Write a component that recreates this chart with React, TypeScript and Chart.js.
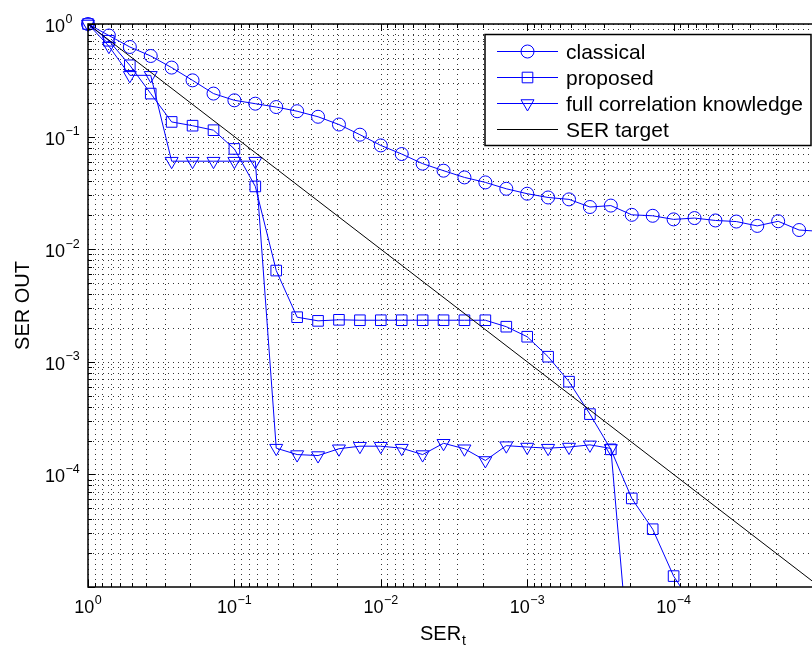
import { useEffect, useRef } from 'react';
import { Chart, registerables } from 'chart.js';

Chart.register(...registerables);

// SER target values (x axis), logspace from 1 to 1e-5 in 36 steps
const serTarget = [
  1, 0.7197, 0.5179, 0.3728, 0.2683, 0.1931, 0.1389,
  0.1, 0.07197, 0.05179, 0.03728, 0.02683, 0.01931, 0.01389,
  0.01, 0.007197, 0.005179, 0.003728, 0.002683, 0.001931, 0.001389,
  0.001, 7.197e-4, 5.179e-4, 3.728e-4, 2.683e-4, 1.931e-4, 1.389e-4,
  1e-4, 7.197e-5, 5.179e-5, 3.728e-5, 2.683e-5, 1.931e-5, 1.389e-5,
  1e-5,
];

const classical = [
  1.0, 0.79, 0.625, 0.52, 0.41, 0.316, 0.241, 0.21, 0.196, 0.183,
  0.168, 0.15, 0.128, 0.104, 0.0835, 0.07, 0.0575, 0.0498, 0.0434, 0.0392,
  0.0344, 0.0311, 0.0288, 0.0277, 0.0237, 0.0244, 0.0202, 0.0198, 0.0184, 0.0189,
  0.018, 0.0176, 0.0161, 0.0177, 0.0148, 0.0144,
];

const proposed = [
  1.0, 0.71, 0.43, 0.241, 0.135, 0.125, 0.114, 0.0777, 0.0361, 0.00646,
  0.00249, 0.00231, 0.00236, 0.00234, 0.00234, 0.00234, 0.00234, 0.00234, 0.00234, 0.00234,
  0.00205, 0.00167, 0.00111, 6.66e-4, 3.43e-4, 1.67e-4, 6.12e-5, 3.26e-5, 1.25e-5, 6.5e-6,
];

const fullCorrelation = [
  1.0, 0.635, 0.35, 0.35, 0.0605, 0.0605, 0.0605, 0.0605, 0.0605, 1.71e-4,
  1.5e-4, 1.47e-4, 1.69e-4, 1.78e-4, 1.78e-4, 1.71e-4, 1.5e-4, 1.89e-4, 1.69e-4, 1.33e-4,
  1.8e-4, 1.75e-4, 1.71e-4, 1.75e-4, 1.83e-4, 1.7e-4, 1.2e-6,
];

const targetX = [1, 1e-5];
const targetY = [1, 1e-5];

const legendLabels = ['classical', 'proposed', 'full correlation knowledge', 'SER target'];
const labeledExponents = [0, -1, -2, -3, -4];
const gridExponents = [-5, -4, -3, -2, -1];
const mantissas = [1, 2, 3, 4, 5, 6, 7, 8, 9];

const BLUE = '#0000ff';
const FONT = '"Liberation Sans", Arial, Helvetica, sans-serif';

const gridValues: { v: number; major: boolean }[] = [{ v: 1, major: true }];
gridExponents.forEach((e) => {
  mantissas.forEach((m) => {
    gridValues.push({ v: m * Math.pow(10, e), major: m === 1 });
  });
});

const expText = (e: number) => (e < 0 ? '\u2212' + String(-e) : String(e));

function drawMarker(ctx: CanvasRenderingContext2D, kind: string, x: number, y: number) {
  ctx.beginPath();
  if (kind === 'circle') {
    ctx.arc(x, y, 6.5, 0, Math.PI * 2);
  } else if (kind === 'rect') {
    const s = 7.5 * Math.SQRT1_2;
    ctx.rect(x - s, y - s, 2 * s, 2 * s);
  } else if (kind === 'triangle') {
    const r = 7.5;
    ctx.moveTo(x, y + r);
    ctx.lineTo(x - 0.866 * r, y - 0.5 * r);
    ctx.lineTo(x + 0.866 * r, y - 0.5 * r);
    ctx.closePath();
  }
  ctx.stroke();
}

const matlabAxes = {
  id: 'matlabAxes',
  beforeDatasetsDraw(chart: any) {
    const { ctx, chartArea: a, scales } = chart;
    const xs = scales.x;
    const ys = scales.y;
    ctx.save();
    ctx.beginPath();
    ctx.rect(a.left, a.top, a.right - a.left, a.bottom - a.top);
    ctx.clip();
    ctx.strokeStyle = 'rgba(0,0,0,0.8)';
    ctx.lineWidth = 1;
    ctx.setLineDash([1, 4]);
    gridValues.forEach(({ v }) => {
      const px = Math.round(xs.getPixelForValue(v)) + 0.5;
      ctx.beginPath();
      ctx.moveTo(px, a.top);
      ctx.lineTo(px, a.bottom);
      ctx.stroke();
      const py = Math.round(ys.getPixelForValue(v)) + 0.5;
      ctx.beginPath();
      ctx.moveTo(a.left, py);
      ctx.lineTo(a.right, py);
      ctx.stroke();
    });
    ctx.restore();
  },
  afterDatasetsDraw(chart: any) {
    const { ctx, chartArea: a, scales } = chart;
    const xs = scales.x;
    const ys = scales.y;
    ctx.save();
    ctx.setLineDash([]);
    ctx.strokeStyle = '#000';
    ctx.lineWidth = 1.5;
    ctx.strokeRect(a.left, a.top, a.right - a.left, a.bottom - a.top);
    ctx.lineWidth = 1;
    gridValues.forEach(({ v, major }) => {
      const len = major ? 7 : 4;
      const px = Math.round(xs.getPixelForValue(v)) + 0.5;
      ctx.beginPath();
      ctx.moveTo(px, a.bottom);
      ctx.lineTo(px, a.bottom - len);
      ctx.moveTo(px, a.top);
      ctx.lineTo(px, a.top + len);
      ctx.stroke();
      const py = Math.round(ys.getPixelForValue(v)) + 0.5;
      ctx.beginPath();
      ctx.moveTo(a.left, py);
      ctx.lineTo(a.left + len, py);
      ctx.moveTo(a.right, py);
      ctx.lineTo(a.right - len, py);
      ctx.stroke();
    });

    ctx.fillStyle = '#000';
    ctx.textBaseline = 'alphabetic';
    // y tick labels
    labeledExponents.forEach((e) => {
      const py = ys.getPixelForValue(Math.pow(10, e));
      ctx.font = `18px ${FONT}`;
      ctx.textAlign = 'left';
      const w = ctx.measureText('10').width;
      ctx.fillText('10', 45, py + 8);
      ctx.font = `12.5px ${FONT}`;
      ctx.fillText(expText(e), 45 + w + 0.5, py - 1.5);
    });
    // x tick labels
    labeledExponents.forEach((e) => {
      const px = xs.getPixelForValue(Math.pow(10, e));
      ctx.font = `18px ${FONT}`;
      const w1 = ctx.measureText('10').width;
      ctx.font = `12.5px ${FONT}`;
      const w2 = ctx.measureText(expText(e)).width;
      const x0 = px - (w1 + w2 + 0.5) / 2;
      ctx.textAlign = 'left';
      ctx.font = `18px ${FONT}`;
      ctx.fillText('10', x0, a.bottom + 26);
      ctx.font = `12.5px ${FONT}`;
      ctx.fillText(expText(e), x0 + w1 + 0.5, a.bottom + 16.5);
    });
    // x title
    ctx.font = `20px ${FONT}`;
    const wS = ctx.measureText('SER').width;
    ctx.font = `14px ${FONT}`;
    const wT = ctx.measureText('t').width;
    const cx = a.left + 355;
    const sx = cx - (wS + wT + 1) / 2;
    ctx.font = `20px ${FONT}`;
    ctx.fillText('SER', sx, a.bottom + 53);
    ctx.font = `14px ${FONT}`;
    ctx.fillText('t', sx + wS + 1, a.bottom + 58);
    // y title
    ctx.save();
    ctx.translate(29, (a.top + a.bottom) / 2);
    ctx.rotate(-Math.PI / 2);
    ctx.font = `20px ${FONT}`;
    ctx.textAlign = 'center';
    ctx.fillText('SER OUT', 0, 0);
    ctx.restore();
    ctx.restore();
  },
  afterDraw(chart: any) {
    const { ctx, chartArea: a } = chart;
    const bx = a.right - 335;
    const by = a.top + 10.5;
    const bw = 326;
    const bh = 111;
    ctx.save();
    ctx.setLineDash([]);
    ctx.fillStyle = '#fff';
    ctx.fillRect(bx, by, bw, bh);
    ctx.strokeStyle = '#000';
    ctx.lineWidth = 1.5;
    ctx.strokeRect(bx, by, bw, bh);
    const kinds = ['circle', 'rect', 'triangle', 'none'];
    legendLabels.forEach((label, i) => {
      const cy = Math.round(by + 16.5 + i * 26) + 0.5;
      const color = i < 3 ? BLUE : '#000';
      ctx.strokeStyle = color;
      ctx.lineWidth = 1;
      ctx.beginPath();
      ctx.moveTo(bx + 12, cy);
      ctx.lineTo(bx + 73, cy);
      ctx.stroke();
      if (kinds[i] !== 'none') drawMarker(ctx, kinds[i], bx + 42.5, cy);
      ctx.fillStyle = '#000';
      ctx.font = `21px ${FONT}`;
      ctx.textAlign = 'left';
      ctx.textBaseline = 'alphabetic';
      ctx.fillText(label, bx + 81, cy + 7.5);
    });
    ctx.restore();
  },
};

export default function App() {
  const ref = useRef<HTMLCanvasElement | null>(null);
  useEffect(() => {
    if (!ref.current) return;
    const pts = (vals: number[]) => vals.map((y, i) => ({ x: serTarget[i], y }));
    const clip = { left: 10, top: 10, right: 10, bottom: 0 };
    const chart = new Chart(ref.current, {
      type: 'line',
      data: {
        datasets: [
          {
            label: legendLabels[0],
            data: pts(classical),
            borderColor: BLUE,
            borderWidth: 1,
            pointStyle: 'circle',
            pointRadius: 6.5,
            pointBorderWidth: 1,
            pointBorderColor: BLUE,
            pointBackgroundColor: 'rgba(0,0,0,0)',
            clip,
            order: 3,
          },
          {
            label: legendLabels[1],
            data: pts(proposed),
            borderColor: BLUE,
            borderWidth: 1,
            pointStyle: 'rect',
            pointRadius: 7.5,
            pointBorderWidth: 1,
            pointBorderColor: BLUE,
            pointBackgroundColor: 'rgba(0,0,0,0)',
            clip,
            order: 2,
          },
          {
            label: legendLabels[2],
            data: pts(fullCorrelation),
            borderColor: BLUE,
            borderWidth: 1,
            pointStyle: 'triangle',
            pointRotation: 180,
            pointRadius: 7.5,
            pointBorderWidth: 1,
            pointBorderColor: BLUE,
            pointBackgroundColor: 'rgba(0,0,0,0)',
            clip,
            order: 1,
          },
          {
            label: legendLabels[3],
            data: targetX.map((x, i) => ({ x, y: targetY[i] })),
            borderColor: '#000',
            borderWidth: 1,
            pointRadius: 0,
            clip,
            order: 0,
          },
        ],
      } as any,
      options: {
        animation: false,
        responsive: false,
        devicePixelRatio: 1,
        events: [],
        layout: { padding: { left: 88, right: 10, top: 24, bottom: 66 } },
        plugins: { legend: { display: false }, tooltip: { enabled: false } },
        scales: {
          x: { type: 'logarithmic', reverse: true, min: 1e-5, max: 1, display: false },
          y: { type: 'logarithmic', min: 1e-5, max: 1, display: false },
        },
      } as any,
      plugins: [matlabAxes],
    });
    return () => chart.destroy();
  }, []);
  return (
    <div
      style={{
        position: 'fixed',
        left: 0,
        top: 0,
        width: 812,
        height: 653,
        overflow: 'hidden',
        background: '#fff',
      }}
    >
      <canvas ref={ref} width={830} height={653} style={{ width: 830, height: 653, display: 'block' }} />
    </div>
  );
}
